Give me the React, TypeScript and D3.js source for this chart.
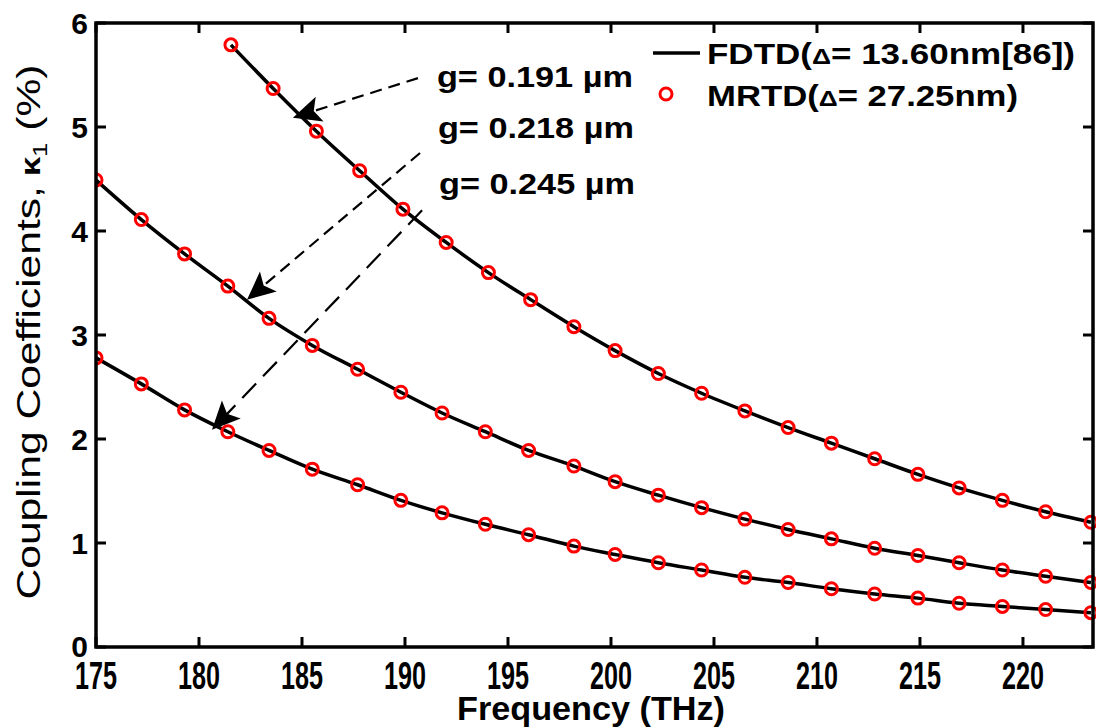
import React from "react";
import * as d3 from "d3";

// ---- data ----
const freqs = [175.0, 177.2, 179.3, 181.4, 183.4, 185.5, 187.7, 189.8, 191.8, 193.9, 196.0, 198.2,
  200.2, 202.3, 204.4, 206.5, 208.6, 210.7, 212.8, 214.9, 216.9, 219.0, 221.1, 223.3];
const freqs191 = [181.55, 183.6, 185.7, 187.8, 189.9, 192.0, 194.05, 196.1, 198.2,
  200.2, 202.3, 204.4, 206.5, 208.6, 210.7, 212.8, 214.9, 216.9, 219.0, 221.1, 223.3];
const g191 = [5.79, 5.37, 4.96, 4.58, 4.21, 3.89, 3.60, 3.34, 3.08, 2.85, 2.63, 2.44, 2.27, 2.11,
  1.96, 1.81, 1.66, 1.53, 1.41, 1.30, 1.20];
const g218 = [4.49, 4.11, 3.78, 3.47, 3.16, 2.90, 2.67, 2.45, 2.25, 2.07, 1.89, 1.74, 1.59, 1.46,
  1.34, 1.23, 1.13, 1.04, 0.95, 0.88, 0.81, 0.74, 0.68, 0.62];
const g245 = [2.78, 2.53, 2.28, 2.07, 1.89, 1.71, 1.56, 1.41, 1.29, 1.18, 1.08, 0.97, 0.89, 0.81,
  0.74, 0.67, 0.62, 0.56, 0.51, 0.47, 0.42, 0.39, 0.36, 0.33];
const xTicks = [175, 180, 185, 190, 195, 200, 205, 210, 215, 220];
const yTicks = [0, 1, 2, 3, 4, 5, 6];
const gapLabels = ["g= 0.191 \u00b5m", "g= 0.218 \u00b5m", "g= 0.245 \u00b5m"];
// annotation arrows in data coordinates: [fromX, fromY, toX, toY]
const arrowsData = [
  [190.63, 5.47, 184.56, 5.09],
  [190.73, 4.75, 182.33, 3.34],
  [190.83, 4.20, 180.63, 2.09],
];
const labelPos = [[191.55, 5.385], [191.6, 4.89], [191.65, 4.36]];

const W = 1096, H = 728;
const L = 96, R = 1093, T = 23, B = 647;

export default function App() {
  const x = d3.scaleLinear().domain([175, 223.4]).range([L, R]);
  const y = d3.scaleLinear().domain([0, 6]).range([B, T]);

  const series = [
    freqs191.map((f, i) => [f, g191[i]] as [number, number]),
    freqs.map((f, i) => [f, g218[i]] as [number, number]),
    freqs.map((f, i) => [f, g245[i]] as [number, number]),
  ];
  const line = d3.line<[number, number]>().x(d => x(d[0])).y(d => y(d[1])).curve(d3.curveMonotoneX);

  const sans = "'Liberation Sans', Arial, sans-serif";

  const arrowHead = (x1: number, y1: number, x2: number, y2: number) => {
    const dx = x2 - x1, dy = y2 - y1;
    const len = Math.hypot(dx, dy);
    const ux = dx / len, uy = dy / len;
    const px = -uy, py = ux;
    const Lh = 28, Wh = 13, N = 0.78 * Lh;
    const p = [
      [x2, y2],
      [x2 - ux * Lh + px * Wh, y2 - uy * Lh + py * Wh],
      [x2 - ux * N, y2 - uy * N],
      [x2 - ux * Lh - px * Wh, y2 - uy * Lh - py * Wh],
    ];
    return { pts: p.map(q => q.join(",")).join(" "), bx: x2 - ux * N, by: y2 - uy * N };
  };

  return (
    <svg width={W} height={H} style={{ position: "absolute", left: 0, top: 0, background: "#fff" }}>
      <defs>
        <clipPath id="plot"><rect x={L} y={T - 10} width={R - L + 10} height={B - T + 10} /></clipPath>
      </defs>
      <rect x={0} y={0} width={W} height={H} fill="#fff" />

      {/* curves */}
      <g clipPath="url(#plot)">
        {series.map((s, i) => (
          <path key={i} d={line(s) || ""} fill="none" stroke="#000" strokeWidth={3.5} />
        ))}
        {series.map((s, i) => s.map((d, j) => (
          <circle key={i + "-" + j} cx={x(d[0])} cy={y(d[1])} r={6} fill="none" stroke="#ff0000" strokeWidth={3} />
        )))}
      </g>

      {/* axes box */}
      <rect x={L} y={T} width={R - L} height={B - T} fill="none" stroke="#000" strokeWidth={3.5} />
      {xTicks.map(t => (
        <g key={"xt" + t}>
          <line x1={x(t)} x2={x(t)} y1={B} y2={B - 10} stroke="#000" strokeWidth={3} />
          <line x1={x(t)} x2={x(t)} y1={T} y2={T + 10} stroke="#000" strokeWidth={3} />
          <text x={x(t)} y={689} textAnchor="middle" fontFamily={sans} fontWeight="bold" fontSize={39}
            textLength={42} lengthAdjust="spacingAndGlyphs">{t}</text>
        </g>
      ))}
      {yTicks.map(t => (
        <g key={"yt" + t}>
          <line x1={L} x2={L + 10} y1={y(t)} y2={y(t)} stroke="#000" strokeWidth={3} />
          <line x1={R} x2={R - 10} y1={y(t)} y2={y(t)} stroke="#000" strokeWidth={3} />
          <text x={88} y={y(t) + (t === 0 ? -1 : 0) + 11} textAnchor="end" fontFamily={sans} fontWeight="bold" fontSize={30}>{t}</text>
        </g>
      ))}

      {/* axis labels */}
      <text x={591} y={720} textAnchor="middle" fontFamily={sans} fontWeight="bold" fontSize={33}
        textLength={268} lengthAdjust="spacingAndGlyphs">Frequency (THz)</text>
      <text transform="translate(40,332) rotate(-90)" textAnchor="middle" fontFamily={sans} fontSize={33}
        textLength={535} lengthAdjust="spacingAndGlyphs">
        Coupling Coefficients,
        <tspan fontWeight="bold" fontSize={27}> {"\u03ba"}</tspan>
        <tspan fontSize={20} dy={7}>1</tspan>
        <tspan dy={-7}> (%)</tspan>
      </text>

      {/* annotations */}
      {arrowsData.map((a, i) => {
        const x1 = x(a[0]), y1 = y(a[1]), x2 = x(a[2]), y2 = y(a[3]);
        const h = arrowHead(x1, y1, x2, y2);
        return (
          <g key={"ar" + i}>
            <line x1={x1} y1={y1} x2={h.bx} y2={h.by} stroke="#000" strokeWidth={2.2}
              strokeDasharray={i === 2 ? "20 10" : "12 7"} />
            <polygon points={h.pts} fill="#000" />
          </g>
        );
      })}
      {gapLabels.map((s, i) => (
        <text key={"gl" + i} x={x(labelPos[i][0])} y={y(labelPos[i][1])} fontFamily={sans} fontWeight="bold" fontSize={29}
          textLength={196} lengthAdjust="spacingAndGlyphs">{s}</text>
      ))}

      {/* legend */}
      <line x1={653} x2={700} y1={53} y2={53} stroke="#000" strokeWidth={3.5} />
      <text x={707} y={64} fontFamily={sans} fontWeight="bold" fontSize={29} textLength={368} lengthAdjust="spacingAndGlyphs">
        FDTD(<tspan fontSize={22}>{"\u0394"}</tspan>= 13.60nm[86])
      </text>
      <circle cx={666} cy={94} r={6} fill="none" stroke="#ff0000" strokeWidth={3} />
      <text x={707} y={106} fontFamily={sans} fontWeight="bold" fontSize={29} textLength={311} lengthAdjust="spacingAndGlyphs">
        MRTD(<tspan fontSize={22}>{"\u0394"}</tspan>= 27.25nm)
      </text>
    </svg>
  );
}
